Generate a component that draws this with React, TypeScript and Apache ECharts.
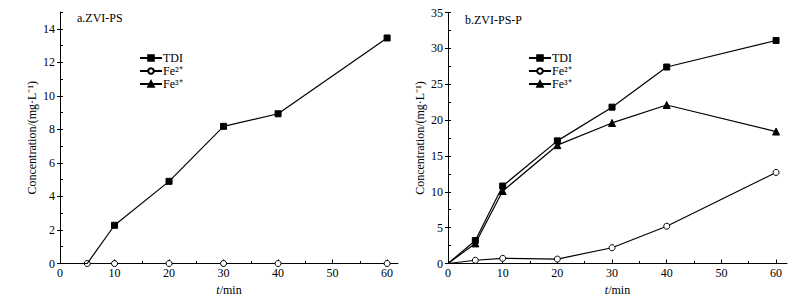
import React, { useEffect, useRef } from "react";
import * as echarts from "echarts";

const timeA = [0, 5, 10, 20, 30, 40, 60];
const tdiA = [0, 0, 2.28, 4.9, 8.18, 8.93, 13.45];
const fe2A = [0, 0, 0, 0, 0, 0, 0];
const fe3A: number[] = [];

const timeB = [0, 5, 10, 20, 30, 40, 60];
const tdiB = [0, 3.2, 10.8, 17.1, 21.8, 27.4, 31.1];
const fe2B = [0, 0.45, 0.72, 0.62, 2.2, 5.2, 12.7];
const fe3B = [0, 2.8, 10.1, 16.5, 19.6, 22.1, 18.4];

const xMajor = [0, 10, 20, 30, 40, 50, 60];
const xMinor = [5, 15, 25, 35, 45, 55];
const yMajorA = [0, 2, 4, 6, 8, 10, 12, 14];
const yMinorA = [1, 3, 5, 7, 9, 11, 13, 15];
const yMajorB = [0, 5, 10, 15, 20, 25, 30, 35];
const yMinorB = [2.5, 7.5, 12.5, 17.5, 22.5, 27.5, 32.5];

const names = ["TDI", "Fe²⁺", "Fe³⁺"];
const FONT = "'Liberation Serif', 'Times New Roman', serif";

function pts(t: number[], v: number[], hidden: number[]) {
  return v.map((y, i) =>
    hidden.includes(i) ? { value: [t[i], y], symbol: "none" } : { value: [t[i], y] }
  );
}

export default function App() {
  const ref = useRef<HTMLDivElement>(null);
  useEffect(() => {
    if (!ref.current) return;
    const chart = echarts.init(ref.current, undefined, { renderer: "svg" });
    const txt = { color: "#000", fontFamily: FONT, fontSize: 12 };
    const mainX = (grid: number) => ({
      type: "value",
      gridIndex: grid,
      min: 0,
      max: 62,
      position: "bottom",
      axisLine: { show: true, lineStyle: { color: "#000", width: 1 } },
      axisTick: { show: true, inside: true, length: 4, customValues: xMajor, lineStyle: { color: "#000" } },
      axisLabel: { show: true, customValues: xMajor, margin: 3, ...txt },
      splitLine: { show: false },
      name: "{i|t}/min",
      nameLocation: "middle",
      nameGap: 20,
      nameTextStyle: { ...txt, rich: { i: { ...txt, fontStyle: "italic" } } },
    });
    const overX = (grid: number) => ({
      type: "value",
      gridIndex: grid,
      min: 0,
      max: 62,
      position: "bottom",
      axisLine: { show: false },
      axisTick: { show: true, inside: true, length: 2.5, customValues: xMinor, lineStyle: { color: "#000" } },
      axisLabel: { show: false },
      splitLine: { show: false },
    });
    const mainY = (grid: number, max: number, major: number[]) => ({
      type: "value",
      gridIndex: grid,
      min: 0,
      max,
      position: "left",
      axisLine: { show: true, lineStyle: { color: "#000", width: 1 } },
      axisTick: { show: true, inside: false, length: 3, customValues: major, lineStyle: { color: "#000" } },
      axisLabel: { show: true, customValues: major, margin: 5, ...txt },
      splitLine: { show: false },
      name: "Concentration/(mg·L⁻¹)",
      nameLocation: "middle",
      nameGap: 22,
      nameTextStyle: txt,
    });
    const overY = (grid: number, max: number, ticks: number[]) => ({
      type: "value",
      gridIndex: grid,
      min: 0,
      max,
      position: "left",
      axisLine: { show: false },
      axisTick: { show: true, inside: true, length: 3, customValues: ticks, lineStyle: { color: "#000" } },
      axisLabel: { show: false },
      splitLine: { show: false },
    });
    const line = (name: string, data: any[], xi: number, yi: number, symbol: string, fill: string, size: number) => ({
      name,
      type: "line",
      xAxisIndex: xi,
      yAxisIndex: yi,
      data,
      symbol,
      symbolSize: size,
      showSymbol: true,
      clip: false,
      lineStyle: { color: "#000", width: 1.2 },
      itemStyle: { color: fill, borderColor: "#000", borderWidth: 1 },
      z: name === "TDI" ? 3 : 2,
    });
    const legend = (left: number) => ({
      data: names,
      left,
      top: 47,
      orient: "vertical",
      itemWidth: 22,
      itemHeight: 7,
      itemGap: 1,
      selectedMode: false,
      textStyle: { ...txt, lineHeight: 12, padding: [0, 0, 0, -4] },
    });
    chart.setOption({
      animation: false,
      backgroundColor: "#fff",
      title: [
        { text: "a.ZVI-PS", left: 72, top: 7, textStyle: { ...txt, fontWeight: "normal" } },
        { text: "b.ZVI-PS-P", left: 460, top: 9, textStyle: { ...txt, fontWeight: "normal" } },
      ],
      legend: [legend(134), legend(523)],
      grid: [
        { left: 60, top: 12, width: 338, bottom: 37.5 },
        { left: 448, top: 12.5, width: 339, bottom: 37.5 },
      ],
      xAxis: [mainX(0), overX(0), mainX(1), overX(1)],
      yAxis: [
        mainY(0, 15, yMajorA),
        overY(0, 15, [...yMajorA, ...yMinorA]),
        mainY(1, 35, yMajorB),
        overY(1, 35, [...yMajorB, ...yMinorB]),
      ],
      series: [
        line("Fe²⁺", pts(timeA, fe2A, [0]), 0, 0, "circle", "#fff", 6),
        line("Fe³⁺", pts(timeA, fe3A, []), 0, 0, "triangle", "#000", 7),
        line("TDI", pts(timeA, tdiA, [0, 1]), 0, 0, "rect", "#000", 6),
        line("TDI", pts(timeB, tdiB, [0]), 2, 2, "rect", "#000", 6),
        line("Fe²⁺", pts(timeB, fe2B, [0]), 2, 2, "circle", "#fff", 6),
        line("Fe³⁺", pts(timeB, fe3B, [0]), 2, 2, "triangle", "#000", 7),
      ],
    });
    return () => chart.dispose();
  }, []);
  return <div ref={ref} style={{ width: 809, height: 301, position: "absolute", left: 0, top: 0 }} />;
}
